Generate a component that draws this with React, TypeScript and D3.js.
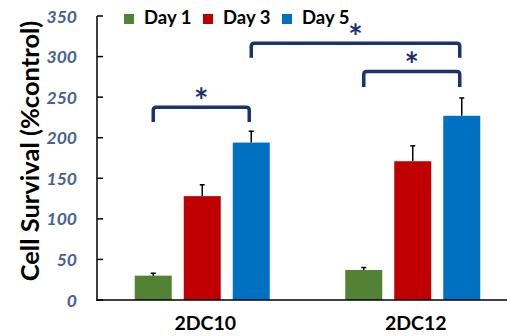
import React from "react";
import * as d3 from "d3";

const groups = ["2DC10", "2DC12"];
const series = ["Day 1", "Day 3", "Day 5"];
const colors = ["#548235", "#C00000", "#0070C0"];
// values per series, per group
const day1 = [30, 37];
const day3 = [128, 171];
const day5 = [194, 227];
const err1 = [3, 3];
const err3 = [14, 19];
const err5 = [14, 22];
const yTicks = [0, 50, 100, 150, 200, 250, 300, 350];
// significance brackets: [group, series] from -> to, top value, leg value
const brackets = [
  { from: [0, 0], to: [0, 2], top: 237.5, leg: 219.5 },
  { from: [0, 2], to: [1, 2], top: 316.5, leg: 298.5 },
  { from: [1, 0], to: [1, 2], top: 281.5, leg: 262.5 },
];

const W = 507;
const H = 336;

export default function App() {
  const values = [day1, day3, day5];
  const errs = [err1, err3, err5];
  const y = d3.scaleLinear().domain([0, 350]).range([300, 16]);
  const x0 = d3.scaleBand().domain(groups).range([97, 518]);
  const inner = (g: string) => {
    const c = (x0(g) as number) + x0.bandwidth() / 2;
    return d3.scaleBand().domain(series).range([c - 67.5, c + 67.5]).paddingInner(12 / 49).paddingOuter(0);
  };
  const barCenter = (gi: number, si: number) => {
    const s = inner(groups[gi]);
    return (s(series[si]) as number) + s.bandwidth() / 2;
  };
  const navy = "#18336E";
  const tickColor = "#44628F";
  const font = "Lato, 'Open Sans', sans-serif";

  return (
    <svg width={W} height={H} style={{ position: "absolute", left: 0, top: 0, background: "#fff" }}>
      {/* y title */}
      <text
        transform={`translate(29,151) rotate(-90)`}
        textAnchor="middle"
        dominantBaseline="central"
        fontFamily={font}
        fontWeight="bold"
        fontSize={25.5}
        fill="#000"
      >
        Cell Survival (%control)
      </text>
      {/* y ticks */}
      {yTicks.map((t) => (
        <g key={t}>
          <line x1={97} x2={103} y1={y(t)} y2={y(t)} stroke="#000" strokeWidth={1.5} />
          <text
            x={77}
            y={y(t)}
            textAnchor="end"
            dominantBaseline="central"
            fontFamily={font}
            fontStyle="italic"
            fontWeight="bold"
            fontSize={17.5}
            fill={tickColor}
          >
            {t}
          </text>
        </g>
      ))}
      {/* bars */}
      {groups.map((g, gi) => {
        const s = inner(g);
        return (
          <g key={g}>
            {series.map((sr, si) => {
              const v = values[si][gi];
              const e = errs[si][gi];
              const bx = s(sr) as number;
              const cx = bx + s.bandwidth() / 2;
              return (
                <g key={sr}>
                  <rect x={bx} y={y(v)} width={s.bandwidth()} height={y(0) - y(v)} fill={colors[si]} />
                  <line x1={cx} x2={cx} y1={y(v)} y2={y(v + e)} stroke="#000" strokeWidth={1.5} />
                  <line x1={cx - 2.5} x2={cx + 2.5} y1={y(v + e)} y2={y(v + e)} stroke="#000" strokeWidth={1.5} />
                </g>
              );
            })}
            <text
              x={(x0(g) as number) + x0.bandwidth() / 2 + 3}
              y={330}
              textAnchor="middle"
              fontFamily={font}
              fontWeight="bold"
              fontSize={19.5}
              fill="#000"
            >
              {g}
            </text>
          </g>
        );
      })}
      {/* axes */}
      <line x1={97} x2={97} y1={y(350)} y2={y(0) + 0.75} stroke="#000" strokeWidth={1.5} />
      <line x1={96.25} x2={507} y1={y(0)} y2={y(0)} stroke="#000" strokeWidth={1.5} />
      {/* brackets */}
      {brackets.map((b, i) => {
        const xa = barCenter(b.from[0], b.from[1]);
        const xb = barCenter(b.to[0], b.to[1]) - 2;
        const yt = y(b.top);
        const yl = y(b.leg);
        const r = 3;
        const d = `M${xa},${yl} L${xa},${yt + r} Q${xa},${yt} ${xa + r},${yt} L${xb - r},${yt} Q${xb},${yt} ${xb},${yt + r} L${xb},${yl}`;
        return (
          <g key={i}>
            <path d={d} fill="none" stroke={navy} strokeWidth={3.5} />
            <text
              x={(xa + xb) / 2}
              y={yt + 5.5}
              textAnchor="middle"
              fontFamily={font}
              fontWeight="bold"
              fontSize={34}
              fill={navy}
            >
              *
            </text>
          </g>
        );
      })}
      {/* legend */}
      {series.map((sr, si) => {
        const lx = [124, 203, 282][si];
        return (
          <g key={sr}>
            <rect x={lx} y={14} width={10} height={10} fill={colors[si]} />
            <text x={lx + 20} y={24} fontFamily={font} fontWeight="bold" fontSize={18.5} fill="#000">
              {sr}
            </text>
          </g>
        );
      })}
    </svg>
  );
}
